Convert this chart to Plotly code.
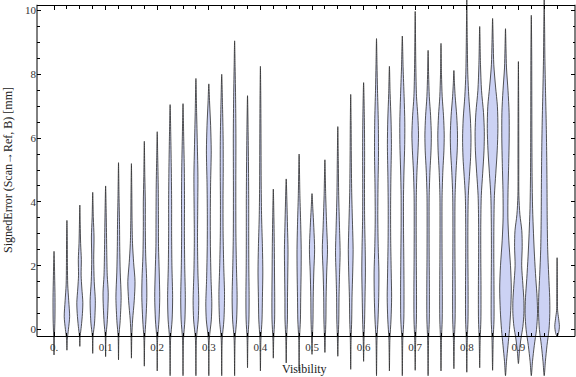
import plotly.graph_objects as go

# ---------------- data ----------------
VISIBILITY = [0.000, 0.025, 0.050, 0.075, 0.100, 0.125, 0.150, 0.175, 0.200, 0.225,
              0.250, 0.275, 0.300, 0.325, 0.350, 0.375, 0.400, 0.425, 0.450, 0.475,
              0.500, 0.525, 0.550, 0.575, 0.600, 0.625, 0.650, 0.675, 0.700, 0.725,
              0.750, 0.775, 0.800, 0.825, 0.850, 0.875, 0.900, 0.925, 0.950, 0.975]

# Density profile of each violin: error values (mm) and relative density at each value
ERR_LEVELS = [
    [-0.8, -0.2, 0.3, 1.0, 1.7, 2.2, 2.45],
    [-0.65, -0.3, 0.0, 0.4, 0.9, 1.4, 2.0, 3.0, 3.42],
    [-0.53, -0.2, 0.1, 0.5, 0.85, 1.3, 1.7, 2.2, 2.7, 3.3, 3.9],
    [-0.75, -0.2, 0.2, 0.9, 1.5, 2.2, 2.9, 3.5, 4.3],
    [-0.85, -0.2, 0.2, 0.7, 1.15, 1.7, 2.5, 3.2, 3.8, 4.5],
    [-0.95, -0.2, 0.2, 1.0, 1.8, 2.6, 3.3, 4.2, 5.23],
    [-0.9, -0.2, 0.3, 0.9, 1.5, 2.1, 2.7, 3.5, 4.3, 5.2],
    [-1.15, -0.3, 0.3, 1.0, 1.6, 2.3, 3.2, 4.0, 4.8, 5.9],
    [-1.3, -0.3, 0.3, 1.0, 1.8, 2.6, 3.5, 4.5, 5.4, 6.2],
    [-1.45, -0.3, 0.3, 1.0, 2.0, 3.0, 4.0, 5.0, 6.0, 7.05],
    [-1.45, -0.3, 0.3, 1.0, 2.0, 3.0, 4.0, 5.0, 6.0, 7.08],
    [-1.45, -0.3, 0.3, 0.9, 1.8, 2.8, 3.8, 4.8, 5.8, 6.8, 7.87],
    [-1.45, -0.3, 0.3, 0.8, 1.6, 2.6, 3.6, 4.6, 5.6, 6.4, 7.1, 7.7],
    [-1.45, -0.3, 0.3, 1.1, 2.0, 3.0, 4.0, 5.0, 6.0, 7.0, 8.0],
    [-1.45, -0.3, 0.3, 1.0, 2.0, 3.0, 4.5, 6.0, 7.2, 8.2, 9.05],
    [-1.2, -0.3, 0.3, 1.0, 2.0, 3.0, 4.0, 5.0, 6.2, 7.33],
    [-1.3, -0.3, 0.3, 1.0, 1.8, 2.6, 3.5, 4.5, 6.0, 7.2, 8.25],
    [-0.9, -0.3, 0.3, 1.0, 1.8, 2.6, 3.5, 4.4],
    [-1.05, -0.3, 0.3, 1.0, 1.8, 2.5, 3.2, 4.0, 4.72],
    [-1.3, -0.3, 0.3, 1.0, 1.8, 2.5, 3.3, 4.2, 5.5],
    [-0.78, -0.3, 0.3, 1.0, 1.8, 2.5, 3.2, 3.8, 4.26],
    [-0.72, -0.3, 0.3, 1.0, 1.8, 2.5, 3.2, 4.2, 5.32],
    [-0.84, -0.3, 0.3, 1.0, 1.8, 2.4, 3.2, 4.2, 5.3, 6.36],
    [-1.25, -0.3, 0.3, 1.0, 1.8, 2.5, 3.3, 4.3, 5.5, 6.5, 7.37],
    [-1.0, -0.3, 0.3, 1.0, 1.8, 2.5, 3.5, 4.5, 5.5, 6.5, 7.74],
    [-1.45, -0.3, 0.3, 1.0, 1.8, 2.6, 3.5, 4.5, 5.5, 6.5, 7.5, 8.3, 9.12],
    [-1.3, -0.3, 0.3, 1.0, 1.8, 2.8, 3.8, 4.8, 5.8, 6.6, 7.4, 8.25],
    [-1.45, -0.3, 0.3, 1.2, 2.2, 3.2, 4.2, 5.0, 5.8, 6.5, 7.3, 8.2, 9.2],
    [-1.28, -0.3, 0.3, 1.2, 2.2, 3.2, 4.2, 5.0, 5.6, 6.1, 6.7, 7.3, 8.3, 9.97],
    [-1.45, -0.3, 0.3, 1.2, 2.2, 3.2, 4.2, 5.0, 5.6, 6.1, 6.7, 7.3, 8.0, 8.75],
    [-1.3, -0.3, 0.3, 1.2, 2.2, 3.2, 4.2, 5.0, 5.6, 6.1, 6.7, 7.3, 8.0, 8.97],
    [-1.23, -0.3, 0.3, 1.2, 2.2, 3.2, 4.2, 5.0, 5.6, 6.1, 6.7, 7.3, 7.7, 8.12],
    [-1.34, -0.3, 0.3, 1.3, 2.3, 3.3, 4.2, 4.8, 5.4, 6.0, 6.6, 7.3, 8.0, 9.0, 10.35],
    [-1.2, -0.3, 0.3, 1.3, 2.3, 3.3, 4.2, 4.9, 5.6, 6.2, 6.8, 7.5, 8.3, 9.5],
    [-1.28, -0.3, 0.3, 1.3, 2.3, 3.3, 4.2, 4.9, 5.6, 6.3, 7.0, 7.6, 8.3, 9.0, 9.75],
    [-1.45, -1.0, -0.5, 0.0, 0.6, 1.3, 2.0, 2.8, 3.5, 4.3, 5.2, 6.0, 6.8, 7.5, 8.2, 8.8, 9.43],
    [-1.07, -0.7, -0.3, 0.1, 0.5, 0.9, 1.4, 2.0, 2.6, 3.1, 3.6, 4.2, 5.5, 7.0, 8.4],
    [-1.45, -1.0, -0.5, 0.0, 0.5, 1.0, 1.6, 2.3, 3.0, 3.8, 4.8, 6.0, 7.5, 8.7, 9.85],
    [-1.45, -1.0, -0.5, 0.0, 0.5, 1.0, 1.7, 2.5, 3.5, 4.5, 5.5, 6.5, 7.5, 8.5, 9.5, 10.35],
    [-0.22, -0.1, 0.1, 0.35, 0.6, 1.2, 2.25],
]
DENSITY = [
    [0, 0.4, 0.9, 1.0, 0.6, 0.3, 0],
    [0, 0.4, 1.5, 2.7, 1.8, 0.8, 0.5, 0.3, 0],
    [0, 0.4, 1.5, 2.6, 3.0, 2.0, 1.3, 1.5, 0.8, 0.4, 0],
    [0, 0.4, 1.8, 2.6, 1.5, 1.0, 1.3, 0.6, 0],
    [0, 0.4, 1.5, 2.3, 2.6, 1.6, 1.1, 0.8, 0.5, 0],
    [0, 0.4, 1.5, 2.6, 1.7, 1.2, 1.0, 0.5, 0],
    [0, 0.4, 1.2, 2.8, 3.6, 2.2, 1.1, 0.6, 0.4, 0],
    [0, 0.4, 1.6, 2.5, 2.3, 1.4, 1.0, 1.0, 0.5, 0],
    [0, 0.4, 1.8, 2.5, 2.0, 1.3, 1.2, 1.0, 0.5, 0],
    [0, 0.5, 2.0, 2.5, 1.8, 1.5, 1.5, 1.2, 0.7, 0],
    [0, 0.5, 1.9, 2.3, 1.7, 1.4, 1.5, 1.3, 0.7, 0],
    [0, 0.5, 2.3, 2.8, 2.0, 1.6, 1.8, 2.0, 1.4, 0.7, 0],
    [0, 0.5, 2.5, 3.0, 2.2, 1.6, 1.5, 1.8, 2.4, 1.8, 0.8, 0],
    [0, 0.5, 2.2, 2.8, 2.0, 1.4, 1.3, 1.5, 1.4, 0.8, 0],
    [0, 0.5, 2.0, 2.5, 1.8, 1.3, 1.2, 1.3, 1.0, 0.5, 0],
    [0, 0.4, 1.4, 1.6, 1.3, 1.2, 1.2, 1.0, 0.6, 0],
    [0, 0.5, 1.6, 2.0, 2.4, 2.0, 1.2, 0.8, 0.6, 0.4, 0],
    [0, 0.4, 1.3, 1.4, 1.2, 1.0, 0.6, 0],
    [0, 0.4, 1.2, 1.3, 1.6, 1.8, 1.3, 0.7, 0],
    [0, 0.4, 1.3, 1.6, 2.0, 2.1, 1.6, 0.8, 0],
    [0, 0.4, 1.0, 1.2, 1.8, 2.6, 1.8, 0.8, 0],
    [0, 0.4, 1.0, 1.2, 1.8, 2.6, 1.8, 0.8, 0],
    [0, 0.4, 1.0, 1.2, 1.8, 2.3, 1.7, 0.9, 0.5, 0],
    [0, 0.4, 1.0, 1.3, 2.0, 2.4, 1.8, 1.0, 0.6, 0.4, 0],
    [0, 0.4, 1.0, 1.4, 1.8, 1.6, 1.0, 0.9, 1.0, 0.8, 0],
    [0, 0.5, 1.5, 2.2, 2.4, 1.7, 1.3, 1.5, 2.0, 1.8, 1.0, 0.5, 0],
    [0, 0.5, 1.6, 2.2, 1.8, 1.3, 1.2, 1.5, 2.0, 1.6, 0.7, 0],
    [0, 0.5, 1.5, 1.7, 1.5, 1.2, 1.2, 1.7, 2.4, 2.5, 1.8, 0.8, 0],
    [0, 0.5, 1.2, 1.3, 1.1, 1.0, 1.1, 1.8, 2.8, 3.3, 2.6, 1.3, 0.6, 0],
    [0, 0.5, 1.2, 1.3, 1.1, 1.0, 1.1, 1.9, 2.9, 3.2, 2.5, 1.2, 0.5, 0],
    [0, 0.5, 1.2, 1.3, 1.1, 1.0, 1.1, 1.9, 2.9, 3.2, 2.5, 1.2, 0.5, 0],
    [0, 0.5, 1.2, 1.3, 1.1, 1.0, 1.2, 2.2, 3.3, 3.6, 2.8, 1.3, 0.6, 0],
    [0, 0.5, 1.2, 1.3, 1.1, 1.1, 1.5, 2.6, 3.8, 4.2, 3.6, 2.0, 1.0, 0.5, 0],
    [0, 0.5, 1.2, 1.3, 1.1, 1.1, 1.6, 3.0, 4.3, 4.6, 3.8, 1.8, 0.8, 0],
    [0, 0.6, 1.4, 1.4, 1.2, 1.3, 1.8, 3.2, 4.6, 5.3, 4.8, 3.0, 1.2, 0.6, 0],
    [0, 1.0, 2.5, 4.0, 5.2, 5.8, 5.0, 3.3, 2.4, 2.5, 3.2, 3.7, 3.6, 2.5, 1.0, 0.5, 0],
    [0, 1.0, 2.5, 4.5, 5.5, 5.5, 4.5, 3.3, 3.8, 3.4, 1.5, 0.5, 0.4, 0.3, 0],
    [0, 1.2, 3.0, 5.2, 6.2, 5.8, 4.5, 3.2, 2.2, 1.3, 0.8, 0.6, 0.5, 0.4, 0],
    [0, 1.2, 2.8, 4.8, 5.6, 5.5, 4.5, 3.5, 3.0, 2.8, 2.5, 2.0, 1.3, 0.7, 0.4, 0],
    [0, 1.5, 2.3, 1.5, 0.5, 0.3, 0],
]

X_TICKS = [0.0, 0.1, 0.2, 0.3, 0.4, 0.5, 0.6, 0.7, 0.8, 0.9]
X_TICK_TEXT = ["0.", "0.1", "0.2", "0.3", "0.4", "0.5", "0.6", "0.7", "0.8", "0.9"]
Y_TICKS = [0, 2, 4, 6, 8, 10]
Y_TICK_TEXT = ["0", "2", "4", "6", "8", "10"]

# ---------------- style ----------------
WIDTH_SCALE = 0.00194          # density unit -> x-axis units
FILL = "#ccd2f4"
EDGE = "rgba(45,45,45,0.9)"
FONT = "Liberation Serif"
X_RANGE = [-0.033, 1.0097]
Y_RANGE = [-1.49, 10.33]
AXIS_Y = -0.22                 # where the horizontal axis sits
FRAME_TOP = 10.18

def frac(v):
    return (v - Y_RANGE[0]) / (Y_RANGE[1] - Y_RANGE[0])

fig = go.Figure()
for pos, lev, den in zip(VISIBILITY, ERR_LEVELS, DENSITY):
    xs = [pos + d * WIDTH_SCALE for d in den] + [pos - d * WIDTH_SCALE for d in den[::-1][1:]]
    ys = list(lev) + list(lev[::-1][1:])
    fig.add_trace(go.Scatter(
        x=xs, y=ys, mode="lines", fill="toself", fillcolor=FILL,
        line=dict(color=EDGE, width=0.9, shape="spline", smoothing=0.8),
        hoverinfo="skip", showlegend=False))

# dummy trace to create top mirror axis
fig.add_trace(go.Scatter(x=[None], y=[None], xaxis="x2", yaxis="y",
                         showlegend=False, hoverinfo="skip"))

minor_x = [round(i * 0.025, 3) for i in range(40)]
minor_y = [i * 0.5 for i in range(21)]
tickfont = dict(family=FONT, size=11, color="#333")

fig.update_layout(
    width=576, height=377,
    margin=dict(l=37, r=1, t=0, b=0, autoexpand=False),
    paper_bgcolor="white", plot_bgcolor="white",
    xaxis=dict(range=X_RANGE, anchor="free", position=frac(AXIS_Y), automargin=False,
               showline=True, linecolor="black", linewidth=1,
               ticks="inside", ticklen=4, tickcolor="black", tickwidth=1,
               tickvals=X_TICKS, ticktext=X_TICK_TEXT, tickfont=tickfont,
               minor=dict(tickvals=minor_x, ticks="inside", ticklen=3, tickcolor="black"),
               showgrid=False, zeroline=False),
    xaxis2=dict(range=X_RANGE, overlaying="x", side="top", anchor="free",
                position=frac(FRAME_TOP), automargin=False,
                showline=True, linecolor="black", linewidth=1,
                ticks="inside", ticklen=4, tickcolor="black",
                tickvals=X_TICKS, showticklabels=False,
                minor=dict(tickvals=minor_x, ticks="inside", ticklen=3, tickcolor="black"),
                showgrid=False, zeroline=False),
    yaxis=dict(range=Y_RANGE, showline=False, mirror="ticks", automargin=False,
               ticks="inside", ticklen=4, tickcolor="black", tickwidth=1,
               tickvals=Y_TICKS, ticktext=Y_TICK_TEXT, tickfont=tickfont,
               minor=dict(tickvals=minor_y, ticks="inside", ticklen=2.5, tickcolor="black"),
               showgrid=False, zeroline=False),
    shapes=[
        dict(type="line", xref="paper", yref="y", x0=0, x1=0, y0=AXIS_Y, y1=FRAME_TOP,
             line=dict(color="black", width=1)),
        dict(type="line", xref="paper", yref="y", x0=1, x1=1, y0=AXIS_Y, y1=FRAME_TOP,
             line=dict(color="black", width=1)),
    ],
    annotations=[
        dict(text="Visibility", xref="paper", yref="paper", x=0.4963, y=0.021,
             xanchor="center", yanchor="middle", showarrow=False,
             font=dict(family=FONT, size=12, color="#222")),
        dict(text="SignedError (Scan→Ref, B) [mm]", xref="paper", yref="paper",
             x=-0.054, y=0.549, xanchor="center", yanchor="middle", textangle=-90,
             showarrow=False, font=dict(family=FONT, size=12, color="#222")),
    ],
)

fig.write_html("out.html", config={"displayModeBar": False},
               post_script="document.body.style.margin='0px';document.body.style.padding='0px';")
